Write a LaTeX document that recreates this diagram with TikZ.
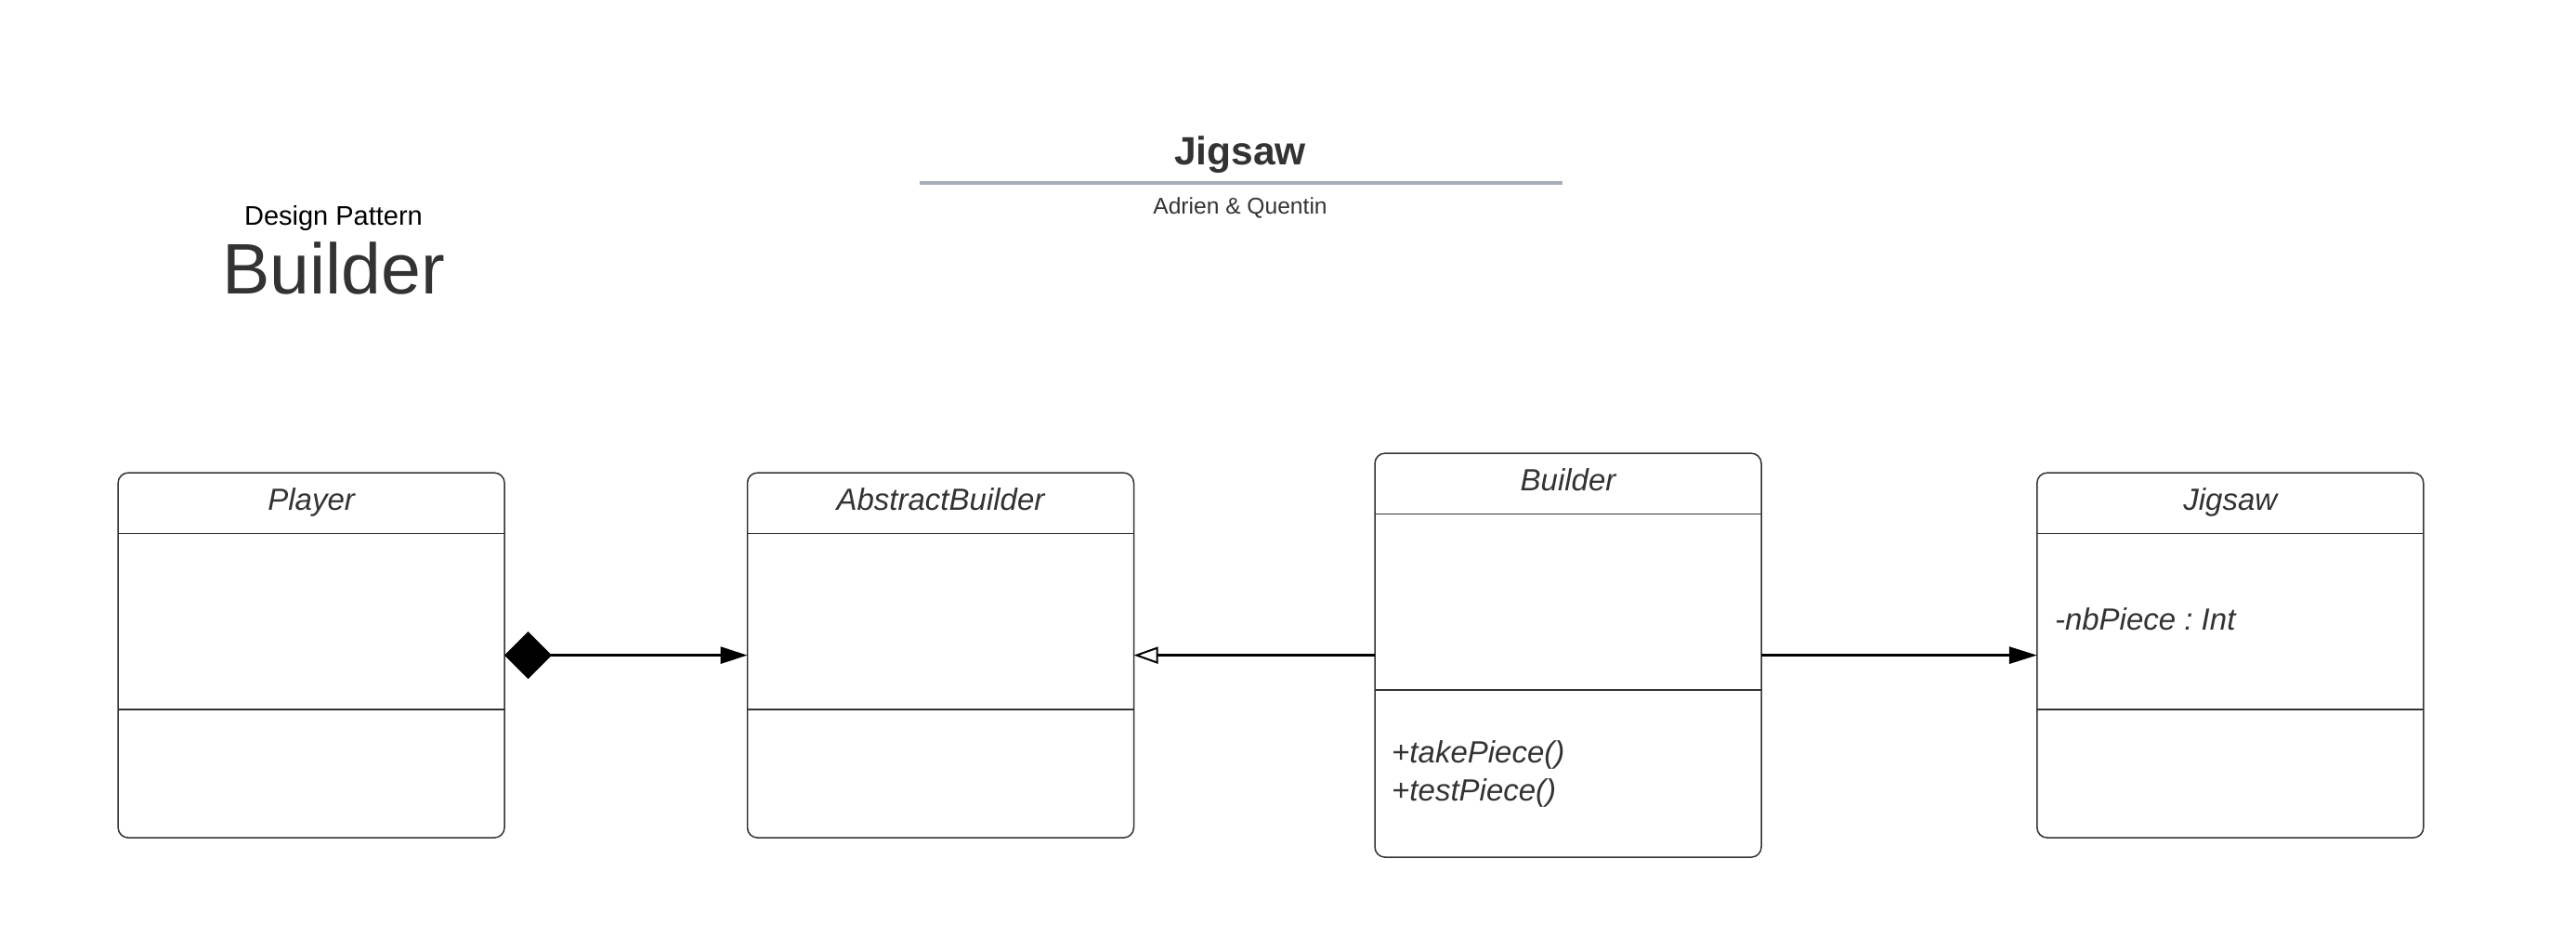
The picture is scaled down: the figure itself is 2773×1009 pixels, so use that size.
\documentclass[tikz,border=0pt]{standalone}
\usepackage{fontspec}
\setmainfont{Liberation Sans}
\usetikzlibrary{arrows.meta}
\definecolor{txt}{HTML}{333333}
\definecolor{rulegray}{HTML}{A8AEB8}
\frenchspacing
\begin{document}
\begin{tikzpicture}[x=1pt,y=-1pt,
 classbox/.style={draw=txt, line width=1.5pt, rounded corners=11pt, fill=white, minimum width=416pt, minimum height=393pt, inner sep=0pt, outer sep=0pt},
 tallbox/.style={classbox, minimum height=435pt},
 cname/.style={font=\fontsize{33}{40}\selectfont\itshape, text=txt, anchor=base, inner sep=0pt},
 member/.style={font=\fontsize{33}{40}\selectfont\itshape, text=txt, anchor=base west, inner sep=0pt},
 divider/.style={draw=txt, line width=1.5pt},
 link/.style={line width=3pt, black}
]
\useasboundingbox (0,0) rectangle (2773,1009);

% titles
\node[font=\fontsize{42.5}{50}\selectfont\bfseries, text=txt, inner sep=0pt, anchor=base] (title) at (1335,177) {Jigsaw};
\coordinate (ruleL) at (990,197);
\coordinate (ruleR) at (1682,197);
\draw[rulegray, line width=4.5pt] (ruleL) -- (ruleR);
\node[font=\fontsize{24.6}{30}\selectfont, text=txt, inner sep=0pt, anchor=base] (authors) at (1335,230.5) {Adrien \& Quentin};
\node[font=\fontsize{29}{34}\selectfont, text=black, inner sep=0pt, anchor=base] (dp) at (359,242) {Design Pattern};
\node[font=\fontsize{77}{90}\selectfont, text=txt, inner sep=0pt] (bigname) at (359,289) {Builder};

% classes
\node[classbox] (player) at (335.1,705.6) {};
\node[classbox] (abstract) at (1012.5,705.6) {};
\node[tallbox] (builder) at (1688,705.6) {};
\node[classbox] (jigsaw) at (2400.8,705.6) {};

\foreach \c in {player,abstract,builder,jigsaw}{
  \draw[divider] ([yshift=-65.5pt]\c.north west) -- ([yshift=-65.5pt]\c.north east);
  \draw[divider] ([yshift=-254.7pt]\c.north west) -- ([yshift=-254.7pt]\c.north east);
}

\node[cname] (playername) at ([yshift=-40.5pt]player.north) {Player};
\node[cname] (abstractname) at ([yshift=-40.5pt]abstract.north) {AbstractBuilder};
\node[cname] (buildername) at ([yshift=-40.5pt]builder.north) {Builder};
\node[cname] (jigsawname) at ([yshift=-40.5pt]jigsaw.north) {Jigsaw};

\node[member] (attr) at ([xshift=19pt,yshift=-169.3pt]jigsaw.north west) {-nbPiece : Int};
\node[member] (meth1) at ([xshift=18pt,yshift=-333.3pt]builder.north west) {+takePiece()};
\node[member] (meth2) at ([xshift=18pt,yshift=-374.3pt]builder.north west) {+testPiece()};

% connectors
\draw[link, {Diamond[length=51pt,width=51pt]}-{Triangle[length=29pt,width=18pt]}] (player.east) -- (abstract.west);
\draw[link, -{Triangle[open,length=26pt,width=18pt,line width=2pt,fill=white]}] (builder.west) -- (abstract.east);
\draw[link, -{Triangle[length=30pt,width=18pt]}] (builder.east) -- (jigsaw.west);
\end{tikzpicture}
\end{document}
